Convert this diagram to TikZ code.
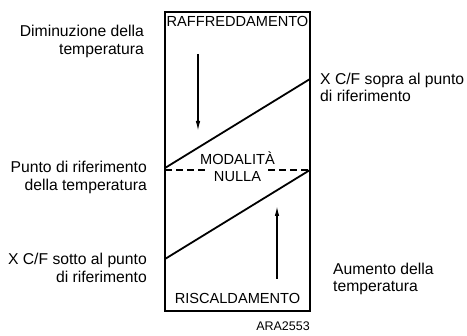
\documentclass[tikz,border=0pt]{standalone}
\usepackage{fontspec}
\setmainfont{Liberation Sans}
\usetikzlibrary{arrows.meta}
\begin{document}
\begin{tikzpicture}[x=1pt,y=-1pt,
  lbl/.style={font=\fontsize{15.7}{17.5}\selectfont, inner sep=0pt},
  caps/.style={font=\fontsize{14.6}{17}\selectfont, inner sep=0pt},
  lblr/.style={lbl, align=right},
  lbll/.style={lbl, align=left},
  frame/.style={draw, line width=1.4pt},
  diag/.style={line width=1.8pt},
  dashline/.style={line width=1.5pt, dash pattern=on 7pt off 4pt},
  arr/.style={line width=1.3pt, -{Latex[length=10pt,width=4.5pt]}}]
\useasboundingbox (0,0) rectangle (467,336);
% frame
\coordinate (tl) at (165,12);
\coordinate (br) at (310,311);
\draw[frame] (tl) rectangle (br);
% key points
\coordinate (ul) at (165,168);
\coordinate (ur) at (310,79);
\coordinate (ll) at (165,259);
\coordinate (lr) at (310,170);
\coordinate (dl) at (165,170);
\coordinate (dlm) at (207,170);
\coordinate (drm) at (268,170);
\draw[diag] (ul) -- (ur);
\draw[diag] (ll) -- (lr);
\draw[dashline] (dl) -- (dlm);
\draw[dashline] (drm) -- (lr);
% arrows
\coordinate (a1s) at (198,54);
\coordinate (a1e) at (198,131);
\coordinate (a2s) at (277,279);
\coordinate (a2e) at (277,206);
\draw[arr] (a1s) -- (a1e);
\draw[arr] (a2s) -- (a2e);
% texts in frame
\node[caps] (raff) at (237.5,21) {RAFFREDDAMENTO};
\node[caps] (risc) at (237.5,298) {RISCALDAMENTO};
\node[caps, align=center] (mod) at (237.5,167) {MODALITÀ\\NULLA};
% side texts
\node[lblr, anchor=east] (dim) at (144,41.5) {Diminuzione della\\temperatura};
\node[lblr, anchor=east] (pun) at (147,177.5) {Punto di riferimento\\della temperatura};
\node[lblr, anchor=east] (sot) at (147,268) {X C/F sotto al punto\\di riferimento};
\node[lbll, anchor=west] (sop) at (320,87.5) {X C/F sopra al punto\\di riferimento};
\node[lbll, anchor=west] (aum) at (333,279) {Aumento della\\temperatura};
\node[lbl, font=\fontsize{12.5}{14}\selectfont, anchor=east] (ara) at (310,326) {ARA2553};
\end{tikzpicture}
\end{document}
